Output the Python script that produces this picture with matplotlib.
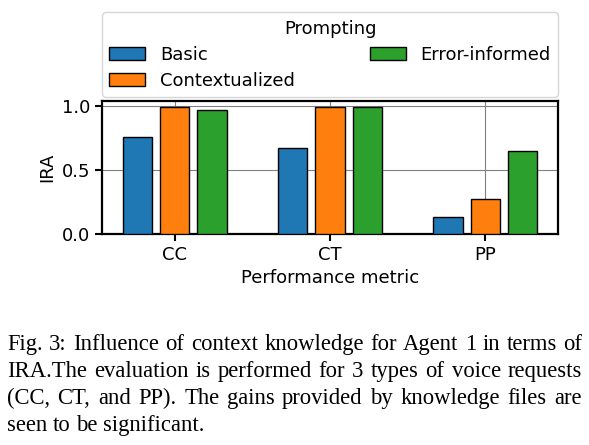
import numpy as np
import matplotlib
matplotlib.use("Agg")
import matplotlib.pyplot as plt

metrics = ["CC", "CT", "PP"]
series = ["Basic", "Contextualized", "Error-informed"]
basic = [0.76, 0.67, 0.13]
contextualized = [0.99, 0.99, 0.27]
error_informed = [0.97, 0.99, 0.65]
colors = ["#1f77b4", "#ff7f0e", "#2ca02c"]

caption_lines = [
    "Fig. 3: Influence of context knowledge for Agent 1 in terms of",
    "IRA.The evaluation is performed for 3 types of voice requests",
    "(CC, CT, and PP). The gains provided by knowledge files are",
    "seen to be significant.",
]

plt.rcParams["font.family"] = "DejaVu Sans"
plt.rcParams["font.size"] = 13

fig = plt.figure(figsize=(5.89, 4.45), dpi=100)
ax = fig.add_axes([102 / 589, 1 - 234 / 445, 456 / 589, 133 / 445])

x = np.arange(len(metrics))
width = 0.19
step = 0.24
for i, (name, vals) in enumerate(zip(series, [basic, contextualized, error_informed])):
    ax.bar(x + (i - 1) * step, vals, width, label=name, color=colors[i],
           edgecolor="black", linewidth=1, zorder=3)

ax.set_xticks(x)
ax.set_xticklabels(metrics)
ax.set_yticks([0.0, 0.5, 1.0])
ax.set_xlabel("Performance metric")
ax.set_ylabel("IRA")
ax.grid(True, color="gray", linewidth=0.8, zorder=0)
for s in ax.spines.values():
    s.set_linewidth(1.6)
ax.tick_params(width=1.5, length=5)

ax.legend(title="Prompting", ncol=2, mode="expand", loc="lower left",
          bbox_to_anchor=(0, 1.03, 1, 0.2), borderaxespad=0, fontsize=13,
          title_fontsize=13, labelspacing=0.45, borderpad=0.4)

# justified caption under the chart
cap_font = dict(family="Liberation Serif", fontsize=16.3)
renderer = fig.canvas.get_renderer()
left, right = 7, 582
baselines = [350, 377, 404, 431]
space = fig.text(0, 0, "a a", **cap_font).get_window_extent(renderer).width - \
    fig.text(0, 0, "aa", **cap_font).get_window_extent(renderer).width
for t in fig.texts[:]:
    t.remove()
for j, line in enumerate(caption_lines):
    words = line.split(" ")
    y = 1 - baselines[j] / 445
    texts = [fig.text(0, y, w, va="baseline", ha="left", **cap_font) for w in words]
    widths = [t.get_window_extent(renderer).width for t in texts]
    if j < len(caption_lines) - 1:
        gap = (right - left - sum(widths)) / (len(words) - 1)
    else:
        gap = space
    pos = left
    for t, w in zip(texts, widths):
        t.set_x(pos / 589)
        pos += w + gap

fig.savefig("out.png", dpi=100)
